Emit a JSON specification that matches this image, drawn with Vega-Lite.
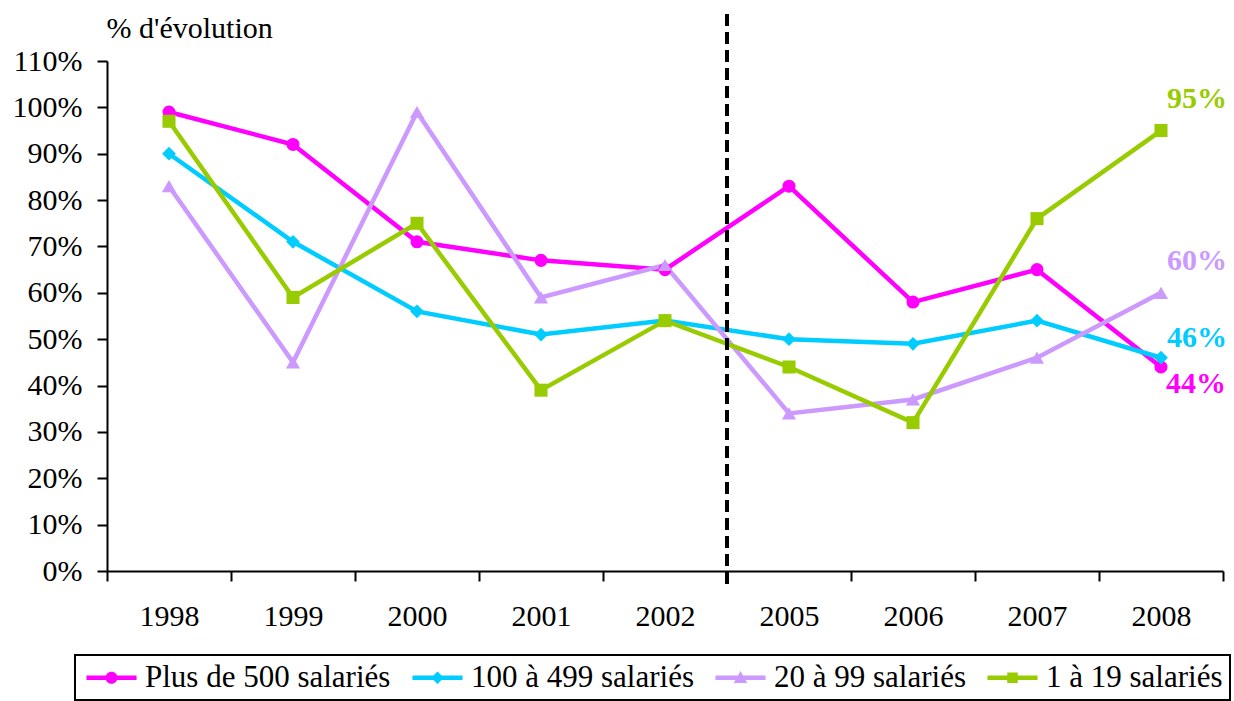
{
  "$schema": "https://vega.github.io/schema/vega-lite/v6.json",
  "width": 1116,
  "height": 510,
  "autosize": {"type": "none"},
  "padding": {"left": 107, "top": 61, "right": 11, "bottom": 130},
  "background": "white",
  "config": {
    "view": {"stroke": null},
    "font": "Liberation Serif",
    "axis": {"labelFont": "Liberation Serif", "titleFont": "Liberation Serif", "labelColor": "black", "domainColor": "black", "tickColor": "black", "grid": false}
  },
  "data": {
    "values": [
      {"year": "1998", "series": "Plus de 500 salariés", "value": 0.99},
      {"year": "1999", "series": "Plus de 500 salariés", "value": 0.92},
      {"year": "2000", "series": "Plus de 500 salariés", "value": 0.71},
      {"year": "2001", "series": "Plus de 500 salariés", "value": 0.67},
      {"year": "2002", "series": "Plus de 500 salariés", "value": 0.65},
      {"year": "2005", "series": "Plus de 500 salariés", "value": 0.83},
      {"year": "2006", "series": "Plus de 500 salariés", "value": 0.58},
      {"year": "2007", "series": "Plus de 500 salariés", "value": 0.65},
      {"year": "2008", "series": "Plus de 500 salariés", "value": 0.44},
      {"year": "1998", "series": "100 à 499 salariés", "value": 0.90},
      {"year": "1999", "series": "100 à 499 salariés", "value": 0.71},
      {"year": "2000", "series": "100 à 499 salariés", "value": 0.56},
      {"year": "2001", "series": "100 à 499 salariés", "value": 0.51},
      {"year": "2002", "series": "100 à 499 salariés", "value": 0.54},
      {"year": "2005", "series": "100 à 499 salariés", "value": 0.50},
      {"year": "2006", "series": "100 à 499 salariés", "value": 0.49},
      {"year": "2007", "series": "100 à 499 salariés", "value": 0.54},
      {"year": "2008", "series": "100 à 499 salariés", "value": 0.46},
      {"year": "1998", "series": "20 à 99 salariés", "value": 0.83},
      {"year": "1999", "series": "20 à 99 salariés", "value": 0.45},
      {"year": "2000", "series": "20 à 99 salariés", "value": 0.99},
      {"year": "2001", "series": "20 à 99 salariés", "value": 0.59},
      {"year": "2002", "series": "20 à 99 salariés", "value": 0.66},
      {"year": "2005", "series": "20 à 99 salariés", "value": 0.34},
      {"year": "2006", "series": "20 à 99 salariés", "value": 0.37},
      {"year": "2007", "series": "20 à 99 salariés", "value": 0.46},
      {"year": "2008", "series": "20 à 99 salariés", "value": 0.60},
      {"year": "1998", "series": "1 à 19 salariés", "value": 0.97},
      {"year": "1999", "series": "1 à 19 salariés", "value": 0.59},
      {"year": "2000", "series": "1 à 19 salariés", "value": 0.75},
      {"year": "2001", "series": "1 à 19 salariés", "value": 0.39},
      {"year": "2002", "series": "1 à 19 salariés", "value": 0.54},
      {"year": "2005", "series": "1 à 19 salariés", "value": 0.44},
      {"year": "2006", "series": "1 à 19 salariés", "value": 0.32},
      {"year": "2007", "series": "1 à 19 salariés", "value": 0.76},
      {"year": "2008", "series": "1 à 19 salariés", "value": 0.95}
    ]
  },
  "encoding": {
    "x": {
      "field": "year", "type": "ordinal",
      "scale": {"type": "band", "paddingInner": 0, "paddingOuter": 0},
      "axis": {"title": null, "labelAngle": 0, "labelFontSize": 30, "labelPadding": 20, "tickBand": "extent", "tickSize": 10, "tickWidth": 2, "domainWidth": 2}
    },
    "y": {
      "field": "value", "type": "quantitative",
      "scale": {"domain": [0, 1.1], "nice": false, "zero": true},
      "axis": {
        "values": [0, 0.1, 0.2, 0.3, 0.4, 0.5, 0.6, 0.7, 0.8, 0.9, 1.0, 1.1],
        "format": ".0%", "labelFontSize": 30, "labelPadding": 15, "tickSize": 10, "tickWidth": 2, "domainWidth": 2,
        "title": "% d'évolution", "titleAngle": 0, "titleX": -1, "titleY": -24, "titleAlign": "left", "titleBaseline": "alphabetic",
        "titleFontSize": 30, "titleFontWeight": "normal", "titleColor": "black"
      }
    },
    "color": {
      "field": "series", "type": "nominal",
      "scale": {
        "domain": ["Plus de 500 salariés", "100 à 499 salariés", "20 à 99 salariés", "1 à 19 salariés"],
        "range": ["#FF00FF", "#00CCFF", "#CC99FF", "#99CC00"]
      }
    }
  },
  "layer": [
    {
      "mark": {"type": "line", "strokeWidth": 4.5},
      "encoding": {
        "color": {
          "field": "series", "type": "nominal",
          "legend": {
            "title": null, "orient": "none", "legendX": -32, "legendY": 594, "direction": "horizontal",
            "strokeColor": "black", "fillColor": "white", "padding": 7,
            "labelFont": "Liberation Serif", "labelFontSize": 31, "labelColor": "black", "labelLimit": 400,
            "symbolSize": 900, "symbolOffset": 14, "labelOffset": 18, "columnPadding": 17, "symbolStrokeWidth": 0,
            "encode": {
              "legend": {"update": {"strokeWidth": {"value": 2}}},
              "symbols": {
                "update": {
                  "shape": {"signal": "datum.value === 'Plus de 500 salariés' ? 'M-1.67,-0.15H1.67V0.15H-1.67Z M0.4,0A0.4,0.4 0 1,1 -0.4,0A0.4,0.4 0 1,1 0.4,0Z' : datum.value === '100 à 499 salariés' ? 'M-1.67,-0.15H1.67V0.15H-1.67Z M0,-0.42L0.42,0L0,0.42L-0.42,0Z' : datum.value === '20 à 99 salariés' ? 'M-1.67,-0.15H1.67V0.15H-1.67Z M0,-0.45L0.45,0.35L-0.45,0.35Z' : 'M-1.67,-0.15H1.67V0.15H-1.67Z M-0.35,-0.35H0.35V0.35H-0.35Z'"},
                  "fill": {"signal": "scale('color', datum.value)"},
                  "opacity": {"value": 1}
                }
              }
            }
          }
        }
      }
    },
    {
      "transform": [{"filter": "datum.series === 'Plus de 500 salariés'"}],
      "mark": {"type": "point", "filled": true, "size": 170, "opacity": 1, "shape": "circle"}
    },
    {
      "transform": [{"filter": "datum.series === '100 à 499 salariés'"}],
      "mark": {"type": "point", "filled": true, "size": 190, "opacity": 1, "shape": "diamond"}
    },
    {
      "transform": [{"filter": "datum.series === '20 à 99 salariés'"}],
      "mark": {"type": "point", "filled": true, "size": 200, "opacity": 1, "shape": "triangle-up"}
    },
    {
      "transform": [{"filter": "datum.series === '1 à 19 salariés'"}],
      "mark": {"type": "point", "filled": true, "size": 170, "opacity": 1, "shape": "square"}
    },
    {
      "mark": {"type": "rule", "strokeDash": [11, 7], "strokeWidth": 3, "color": "black"},
      "encoding": {
        "x": {"datum": "2005", "type": "ordinal", "bandPosition": 0},
        "y": {"datum": 1.2},
        "y2": {"datum": -0.035},
        "color": {"value": "black"}
      }
    },
    {
      "transform": [{"filter": "datum.year === '2008' && (datum.series === '1 à 19 salariés' || datum.series === '20 à 99 salariés')"}],
      "mark": {"type": "text", "font": "Liberation Serif", "fontSize": 30, "fontWeight": "bold", "dx": 36, "dy": -32, "align": "center", "baseline": "middle"},
      "encoding": {"text": {"field": "value", "type": "quantitative", "format": ".0%"}}
    },
    {
      "transform": [{"filter": "datum.year === '2008' && datum.series === '100 à 499 salariés'"}],
      "mark": {"type": "text", "font": "Liberation Serif", "fontSize": 30, "fontWeight": "bold", "dx": 36, "dy": -20, "align": "center", "baseline": "middle"},
      "encoding": {"text": {"field": "value", "type": "quantitative", "format": ".0%"}}
    },
    {
      "transform": [{"filter": "datum.year === '2008' && datum.series === 'Plus de 500 salariés'"}],
      "mark": {"type": "text", "font": "Liberation Serif", "fontSize": 30, "fontWeight": "bold", "dx": 35, "dy": 17, "align": "center", "baseline": "middle"},
      "encoding": {"text": {"field": "value", "type": "quantitative", "format": ".0%"}}
    }
  ]
}
